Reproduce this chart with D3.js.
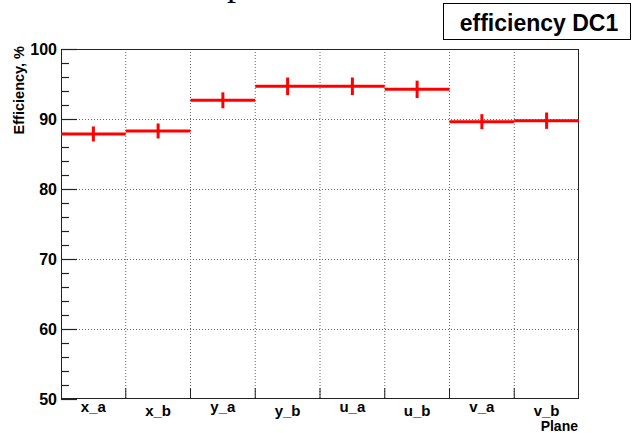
<!DOCTYPE html>
<html>
<head>
<meta charset="utf-8">
<script src="https://cdn.jsdelivr.net/npm/d3@7"></script>
<style>
  html, body { margin: 0; padding: 0; background: #fff; }
  svg { display: block; }
  text { font-family: "Liberation Sans", Arial, Helvetica, sans-serif; font-weight: bold; fill: #000; }
</style>
</head>
<body>
<script>
// Per-plane efficiency of drift chamber DC1
const planes = ["x_a", "x_b", "y_a", "y_b", "u_a", "u_b", "v_a", "v_b"];
const efficiency = [87.87, 88.29, 92.67, 94.67, 94.67, 94.24, 89.62, 89.76];
const errors = [1.07, 1.07, 1.14, 1.26, 1.26, 1.24, 1.07, 1.17];
const yTicks = [50, 60, 70, 80, 90, 100];
const yMinor = d3.range(50, 100.001, 2);

const W = 632, H = 433;
const m = { left: 61, right: 579, top: 49, bottom: 399 };

const svg = d3.select("body").append("svg").attr("width", W).attr("height", H);

const x = d3.scaleBand().domain(planes).range([m.left, m.right]).paddingInner(0).paddingOuter(0);
const y = d3.scaleLinear().domain([50, 100]).range([m.bottom, m.top]);

// Canvas title sitting above the frame; only its lower edge reaches the page
svg.append("text")
  .attr("x", 227).attr("y", -5)
  .style("font-family", "'Liberation Serif', 'DejaVu Serif', serif")
  .style("font-weight", "normal")
  .style("font-size", "36px")
  .text("p");

// Grid: dotted lines at bin edges and at major y ticks
const edges = planes.slice(1).map(p => x(p));
svg.append("g").selectAll("line").data(edges).join("line")
  .attr("x1", d => d).attr("x2", d => d)
  .attr("y1", m.top).attr("y2", m.bottom)
  .attr("stroke", "#666").attr("stroke-width", 1).attr("stroke-dasharray", "1,2");
svg.append("g").selectAll("line").data(yTicks.slice(1)).join("line")
  .attr("x1", m.left).attr("x2", m.right)
  .attr("y1", d => y(d) + 0.5).attr("y2", d => y(d) + 0.5)
  .attr("stroke", "#666").attr("stroke-width", 1).attr("stroke-dasharray", "1,2");

// Frame
svg.append("rect")
  .attr("x", m.left + 0.5).attr("y", m.top + 0.5)
  .attr("width", m.right - m.left - 1).attr("height", m.bottom - m.top - 1)
  .attr("fill", "none").attr("stroke", "#222").attr("stroke-width", 1);

// Y axis: major and minor ticks pointing into the frame
const yAxis = svg.append("g").attr("transform", `translate(${m.left},0)`);
yAxis.selectAll("line.minor").data(yMinor).join("line").attr("class", "minor")
  .attr("x1", 0).attr("x2", d => (d % 10 === 0 ? 16 : 8))
  .attr("y1", d => y(d) + 0.5).attr("y2", d => y(d) + 0.5)
  .attr("stroke", "#222").attr("stroke-width", 1.2);
yAxis.selectAll("text").data(yTicks).join("text")
  .attr("x", -4).attr("y", d => y(d) + 6)
  .attr("text-anchor", "end")
  .style("font-size", "16px")
  .text(d => d);

// X axis: ticks at bin edges and category labels
const xAxis = svg.append("g");
xAxis.selectAll("line").data(edges).join("line")
  .attr("x1", d => d).attr("x2", d => d)
  .attr("y1", m.bottom).attr("y2", m.bottom - 11)
  .attr("stroke", "#222").attr("stroke-width", 1);
xAxis.selectAll("text").data(planes).join("text")
  .attr("x", d => x(d) + x.bandwidth() / 2)
  .attr("y", (d, i) => (i % 2 === 0 ? 412 : 416))
  .attr("text-anchor", "middle")
  .style("font-size", "15px")
  .text(d => d);

// Axis titles
svg.append("text")
  .attr("x", 578).attr("y", 431)
  .attr("text-anchor", "end")
  .style("font-size", "14px")
  .text("Plane");
svg.append("text")
  .attr("transform", "translate(24,46) rotate(-90)")
  .attr("text-anchor", "end")
  .style("font-size", "14.5px")
  .text("Efficiency, %");

// Histogram drawn with error bars: bin-wide horizontal line plus vertical error
const hist = svg.append("g");
const bins = planes.map((p, i) => ({ p, v: efficiency[i], e: errors[i] }));
hist.selectAll("line.h").data(bins).join("line").attr("class", "h")
  .attr("x1", d => x(d.p)).attr("x2", d => x(d.p) + x.bandwidth())
  .attr("y1", d => y(d.v)).attr("y2", d => y(d.v))
  .attr("stroke", "#ff0000").attr("stroke-width", 3);
hist.selectAll("line.v").data(bins).join("line").attr("class", "v")
  .attr("x1", d => x(d.p) + x.bandwidth() / 2).attr("x2", d => x(d.p) + x.bandwidth() / 2)
  .attr("y1", d => y(d.v - d.e)).attr("y2", d => y(d.v + d.e))
  .attr("stroke", "#ff0000").attr("stroke-width", 3);

// Title box
svg.append("rect")
  .attr("x", 443.5).attr("y", 3.5).attr("width", 187).attr("height", 36)
  .attr("fill", "#fff").attr("stroke", "#000").attr("stroke-width", 1);
svg.append("text")
  .attr("x", 539).attr("y", 31)
  .attr("text-anchor", "middle")
  .style("font-size", "23px")
  .text("efficiency DC1");
</script>
</body>
</html>
